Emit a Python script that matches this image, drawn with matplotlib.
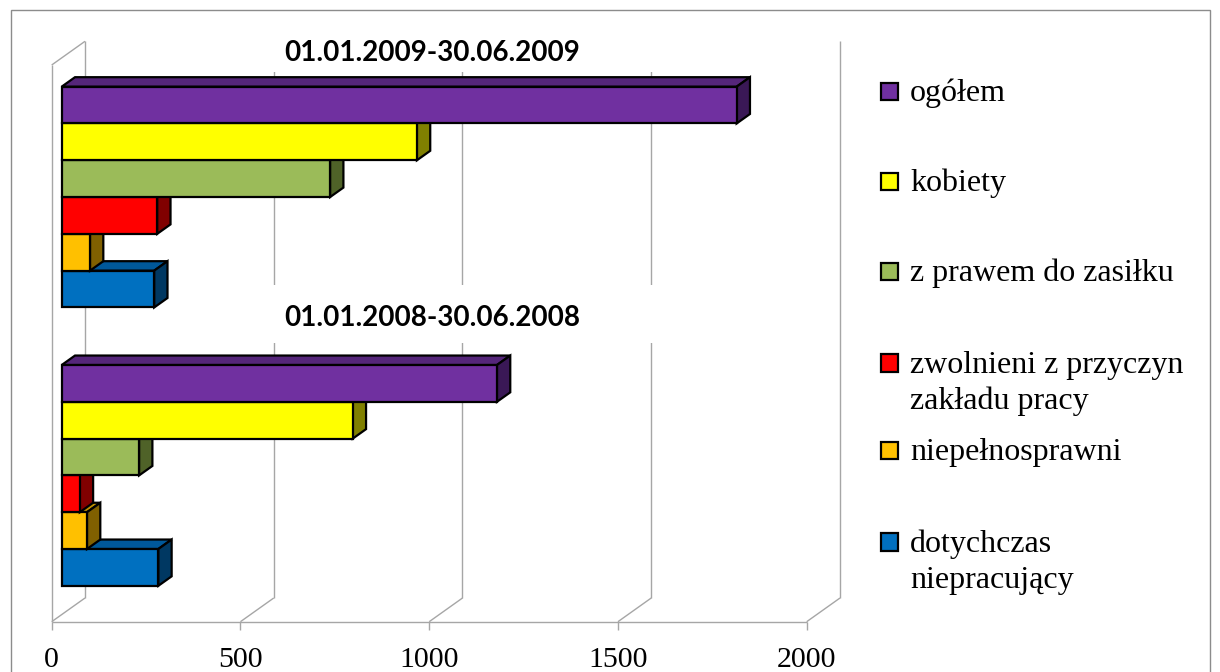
import numpy as np
import matplotlib.pyplot as plt
from matplotlib.patches import Polygon, Rectangle

# categories (bottom -> top on the vertical axis)
periods = ["01.01.2008-30.06.2008", "01.01.2009-30.06.2009"]

# series, from the lowest bar of a group to the highest one
labels = ["dotychczas\nniepracujący", "niepełnosprawni",
          "zwolnieni z przyczyn\nzakładu pracy", "z prawem do zasiłku",
          "kobiety", "ogółem"]
dotychczas = [256, 245]
niepelnosprawni = [67, 75]
zwolnieni = [48, 253]
z_prawem = [205, 711]
kobiety = [771, 941]
ogolem = [1153, 1788]
values = [dotychczas, niepelnosprawni, zwolnieni, z_prawem, kobiety, ogolem]

c_front = ["#0070C0", "#FFC000", "#FF0000", "#9BBB59", "#FFFF00", "#7030A0"]
c_top = ["#00589A", "#BF9000", "#BF0000", "#748C43", "#BFBF00", "#55267A"]
c_side = ["#003862", "#806000", "#800000", "#4F6228", "#808000", "#3A1856"]

ticks = [0, 500, 1000, 1500, 2000]

# ---- layout (pixels of a 1220x672 canvas) ----
W, H_PX = 1220, 672
X0, Y0 = 51.7, 621.7          # front origin of the value axis
PXU = 0.3775                  # px per value unit
PXS = 36.8                    # px per bar slot
DX = 33.3 / PXU               # depth vector in data units
DY = 23.7 / PXS
HWALL = (Y0 - 65) / PXS       # height of front wall in slots
F0, F1 = 0.30, 0.70           # bar depth range (fraction of full depth)

fig = plt.figure(figsize=(W / 100, H_PX / 100), dpi=100)
ax = fig.add_axes([0, 0, 1, 1])
ax.set_xlim(-X0 / PXU, (W - X0) / PXU)
ax.set_ylim(-(H_PX - Y0) / PXS, Y0 / PXS)
ax.axis("off")

grid = dict(color="#A6A6A6", lw=1.0, zorder=1, solid_capstyle="butt")

# back wall gridlines + floor diagonals + ticks
for t in ticks:
    ax.plot([t + DX, t + DX], [DY, HWALL + DY], **grid)
    ax.plot([t, t + DX], [0, DY], **grid)
    ax.plot([t, t], [0, -8.3 / PXS], **grid)
ax.plot([0, ticks[-1]], [0, 0], **grid)
ax.plot([0, 0], [0, HWALL], **grid)
ax.plot([0, DX], [HWALL, HWALL + DY], **grid)

# white boxes behind the category titles hide the gridlines
for y0, y1 in [((Y0 - 343) / PXS, (Y0 - 285) / PXS),
               ((Y0 - 72) / PXS, (Y0 - 40) / PXS)]:
    ax.add_patch(Rectangle((260, y0), 1610, y1 - y0, fc="white",
                           ec="none", zorder=2))

# 3d bars
for c in range(len(periods)):
    yc = (c + 0.5) * HWALL / 2
    for i, vals in enumerate(values):
        v = vals[c]
        b = yc - 3 + i
        fx0, fy0 = F0 * DX, F0 * DY
        fx1, fy1 = F1 * DX, F1 * DY
        kw = dict(ec="black", lw=1.6, joinstyle="miter", zorder=3)
        front = [(fx0, b + fy0), (v + fx0, b + fy0),
                 (v + fx0, b + 1 + fy0), (fx0, b + 1 + fy0)]
        topf = [(fx0, b + 1 + fy0), (v + fx0, b + 1 + fy0),
                (v + fx1, b + 1 + fy1), (fx1, b + 1 + fy1)]
        sidef = [(v + fx0, b + fy0), (v + fx1, b + fy1),
                 (v + fx1, b + 1 + fy1), (v + fx0, b + 1 + fy0)]
        ax.add_patch(Polygon(topf, fc=c_top[i], **kw))
        ax.add_patch(Polygon(sidef, fc=c_side[i], **kw))
        ax.add_patch(Polygon(front, fc=c_front[i], **kw))

# category titles
title_base = [(Y0 - 326) / PXS, (Y0 - 60.7) / PXS]
for c, name in enumerate(periods):
    ax.text(1000 + 0.08 * DX, title_base[c], name, ha="center",
            va="baseline", fontsize=20, fontweight="bold",
            family=["Lato", "DejaVu Sans"], zorder=4)

# value axis labels
for t in ticks:
    ax.text(t, -(667.3 - Y0) / PXS, str(t), ha="center", va="baseline",
            fontsize=21.5, family="Liberation Serif", zorder=4)

# legend (top entry first)
def fx(x):
    return x / W


def fy(y):
    return 1 - y / H_PX


base_lines = [101, 191.5, 281, 372.7, 460, 551.7]
for k, i in enumerate(range(len(labels) - 1, -1, -1)):
    yb = base_lines[k]
    fig.add_artist(Rectangle((fx(880.5), fy(yb - 1)), 17.5 / W, 17.5 / H_PX,
                             fc=c_front[i], ec="black", lw=1.6,
                             transform=fig.transFigure))
    for j, line in enumerate(labels[i].split("\n")):
        fig.text(fx(910), fy(yb + j * 36.6), line, ha="left",
                 va="baseline", fontsize=23, family="Liberation Serif")

# outer frame
fig.add_artist(Rectangle((fx(10.5), fy(700)), (1209.5 - 10.5) / W,
                         (700 - 10) / H_PX, fc="none", ec="#8C8C8C",
                         lw=1.0, transform=fig.transFigure))

fig.savefig("out.png", dpi=100)
